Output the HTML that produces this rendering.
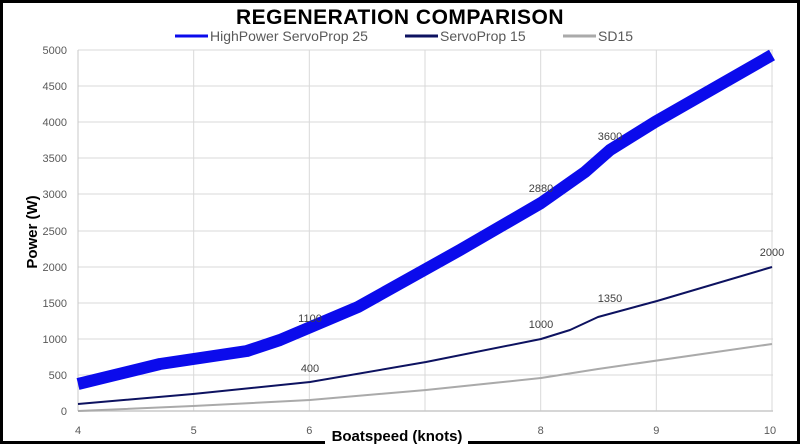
<!DOCTYPE html>
<html><head><meta charset="utf-8"><style>
html,body{margin:0;padding:0;background:#fff;}
svg{display:block;}
</style></head><body>
<svg width="800" height="445" viewBox="0 0 800 445" xmlns="http://www.w3.org/2000/svg" font-family="Liberation Sans Narrow, Liberation Sans, sans-serif">
<rect x="0" y="0" width="800" height="445" fill="#fff"/>
<!-- frame -->
<rect x="1.5" y="1.5" width="797" height="441" fill="none" stroke="#000" stroke-width="3"/>
<rect x="325" y="438" width="143" height="7" fill="#fff"/>
<!-- grid -->
<g stroke="#d9d9d9" stroke-width="1">
<line x1="78" y1="50" x2="773" y2="50"/>
<line x1="78" y1="86" x2="773" y2="86"/>
<line x1="78" y1="122" x2="773" y2="122"/>
<line x1="78" y1="158" x2="773" y2="158"/>
<line x1="78" y1="194" x2="773" y2="194"/>
<line x1="78" y1="231" x2="773" y2="231"/>
<line x1="78" y1="267" x2="773" y2="267"/>
<line x1="78" y1="303" x2="773" y2="303"/>
<line x1="78" y1="339" x2="773" y2="339"/>
<line x1="78" y1="375" x2="773" y2="375"/>
<line x1="193.7" y1="50" x2="193.7" y2="411"/>
<line x1="309.3" y1="50" x2="309.3" y2="411"/>
<line x1="425" y1="50" x2="425" y2="411"/>
<line x1="540.7" y1="50" x2="540.7" y2="411"/>
<line x1="656.3" y1="50" x2="656.3" y2="411"/>
<line x1="772" y1="50" x2="772" y2="411"/>
</g>
<line x1="78" y1="411" x2="773" y2="411" stroke="#c8c8c8" stroke-width="1.5"/>
<line x1="78" y1="50" x2="78" y2="411" stroke="#c8c8c8" stroke-width="1"/>
<!-- y labels -->
<g fill="#595959" font-size="11" text-anchor="end">
<text x="67" y="54">5000</text><text x="67" y="90">4500</text><text x="67" y="126">4000</text>
<text x="67" y="162">3500</text><text x="67" y="198">3000</text><text x="67" y="235">2500</text>
<text x="67" y="271">2000</text><text x="67" y="307">1500</text><text x="67" y="343">1000</text>
<text x="67" y="379">500</text><text x="67" y="415">0</text>
</g>
<g fill="#595959" font-size="11" text-anchor="middle">
<text x="78" y="434">4</text><text x="193.7" y="434">5</text><text x="309.3" y="434">6</text>
<text x="540.7" y="434">8</text><text x="656.3" y="434">9</text><text x="770" y="434">10</text>
</g>
<!-- series -->
<polyline fill="none" stroke="#aaaaaa" stroke-width="2" stroke-linejoin="round" points="78,411 193,406 310,400 426,390 541,378 598,369 772,344"/>
<polyline fill="none" stroke="#0d1260" stroke-width="2" stroke-linejoin="round" points="78,404 193,394 310,382 426,362 541,339 570,330 598,317 657,301 772,267"/>
<polyline fill="none" stroke="#0b0bec" stroke-width="12" stroke-linejoin="round" points="78,384 160,364 247,351 280,340 358,307 460,250 541,203 585,172 610,150 655,122 772,55"/>
<!-- data labels -->
<g fill="#404040" font-size="11" text-anchor="middle">
<text x="310" y="322">1100</text><text x="310" y="372">400</text>
<text x="541" y="192">2880</text><text x="610" y="140">3600</text>
<text x="541" y="328">1000</text><text x="610" y="302">1350</text>
<text x="772" y="256">2000</text>
</g>
<!-- axis titles -->
<text x="397" y="441" font-size="15" font-weight="bold" text-anchor="middle" fill="#000">Boatspeed (knots)</text>
<text transform="translate(37,232) rotate(-90)" font-size="15" font-weight="bold" text-anchor="middle" fill="#000">Power (W)</text>
<!-- title -->
<text x="400" y="24" font-size="21" font-weight="bold" text-anchor="middle" fill="#000" font-family="Liberation Sans, sans-serif" letter-spacing="0.5">REGENERATION COMPARISON</text>
<!-- legend -->
<line x1="175" y1="36" x2="208" y2="36" stroke="#0b0bec" stroke-width="3"/>
<text x="210" y="41" font-size="14" fill="#595959">HighPower ServoProp 25</text>
<line x1="405" y1="36" x2="438" y2="36" stroke="#0d1260" stroke-width="3"/>
<text x="440" y="41" font-size="14" fill="#595959">ServoProp 15</text>
<line x1="563" y1="36" x2="596" y2="36" stroke="#aaaaaa" stroke-width="3"/>
<text x="598" y="41" font-size="14" fill="#595959">SD15</text>
</svg>
</body></html>
